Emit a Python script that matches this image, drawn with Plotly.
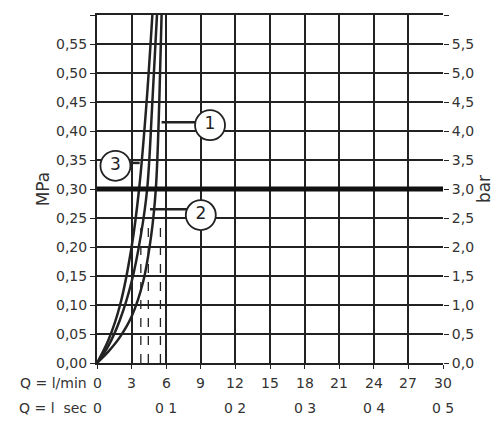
import plotly.graph_objects as go

c1_q = [0, 1, 2, 3, 4, 4.7, 5.1, 5.4, 5.6]
c1_p = [0, 0.02, 0.045, 0.08, 0.14, 0.22, 0.3, 0.45, 0.6]
c2_q = [0, 1, 2, 3, 3.8, 4.35, 4.8, 5.2]
c2_p = [0, 0.03, 0.075, 0.14, 0.22, 0.3, 0.45, 0.6]
c3_q = [0, 1, 2, 3, 3.65, 4.3, 4.8]
c3_p = [0, 0.04, 0.1, 0.2, 0.3, 0.45, 0.6]
dash_q = [3.8, 4.45, 5.5]
dash_top = 0.25
q_lmin = [0, 3, 6, 9, 12, 15, 18, 21, 24, 27, 30]
q_lsec_pos = [0, 6, 12, 18, 24, 30]
q_lsec_txt = ["0", "0 1", "0 2", "0 3", "0 4", "0 5"]
p_mpa = [round(i * 0.05, 2) for i in range(13)]
p_bar = [round(i * 0.5, 1) for i in range(13)]
labels = [("1", 9.8, 0.41, 5.6, 0.415), ("2", 9.0, 0.255, 4.6, 0.265), ("3", 1.6, 0.34, 3.7, 0.345)]

F = "DejaVu Sans"
fig = go.Figure()
for q, p in [(c1_q, c1_p), (c2_q, c2_p), (c3_q, c3_p)]:
    fig.add_trace(go.Scatter(x=q, y=p, mode="lines", line=dict(color="#222", width=2.5, shape="spline"), showlegend=False))
for q in dash_q:
    fig.add_trace(go.Scatter(x=[q, q], y=[0, dash_top], mode="lines", line=dict(color="#222", width=1.3, dash="dash"), showlegend=False))
fig.add_trace(go.Scatter(x=[0, 30], y=[0.3, 0.3], mode="lines", line=dict(color="#111", width=5), showlegend=False))
for t, x, y, x0, y0 in labels:
    fig.add_trace(go.Scatter(x=[x0, x], y=[y0, y0], mode="lines", line=dict(color="#222", width=2.5), showlegend=False))
    fig.add_trace(go.Scatter(x=[x], y=[y], mode="markers+text", text=[t], textfont=dict(size=17, family=F, color="#222"),
                             marker=dict(size=30, color="white", line=dict(color="#222", width=1.8)), showlegend=False))
fig.add_trace(go.Scatter(x=[0], y=[0], yaxis="y2", mode="markers", marker=dict(opacity=0), showlegend=False))

fig.update_layout(
    width=500, height=425, margin=dict(l=89, r=65, t=7, b=70, autoexpand=False),
    plot_bgcolor="white", paper_bgcolor="white", font=dict(family=F, size=14, color="#333"),
    xaxis=dict(range=[0, 30], tickvals=q_lmin, showticklabels=False, showgrid=True, gridcolor="#222", gridwidth=1.5,
               zeroline=False, showline=True, linecolor="#222", linewidth=2, mirror=True, ticks="outside", ticklen=4,
               tickcolor="#222", automargin=False),
    yaxis=dict(range=[0, 0.6], tickvals=p_mpa, ticktext=[f"{v:.2f}".replace(".", ",") for v in p_mpa], automargin=False,
               showgrid=True, gridcolor="#222", gridwidth=1.5, zeroline=False, showline=True, linecolor="#222", linewidth=2,
               ticks="outside", ticklen=5, tickcolor="#222", title=dict(text="MPa", standoff=2)),
    yaxis2=dict(range=[0, 6], overlaying="y", side="right", tickvals=p_bar, ticktext=[f"{v:.1f}".replace(".", ",") for v in p_bar],
                automargin=False, showgrid=False, zeroline=False, ticks="outside", ticklen=5, tickcolor="#222",
                title=dict(text="bar", standoff=2)),
)
ann = [dict(x=0, y=0, yshift=-30, xshift=-8, xref="paper", yref="paper", text="Q = l/min", xanchor="right", showarrow=False)]
ann += [dict(x=v, y=0, yshift=-30, xref="x", yref="paper", text=str(v), showarrow=False) for v in q_lmin]
ann += [dict(x=0, y=0, yshift=-55, xshift=-8, xref="paper", yref="paper", text="Q = l  sec", xanchor="right", showarrow=False)]
ann += [dict(x=v, y=0, yshift=-55, xref="x", yref="paper", text=t, showarrow=False) for v, t in zip(q_lsec_pos, q_lsec_txt)]
fig.update_layout(annotations=ann)
fig.write_html("out.html")
